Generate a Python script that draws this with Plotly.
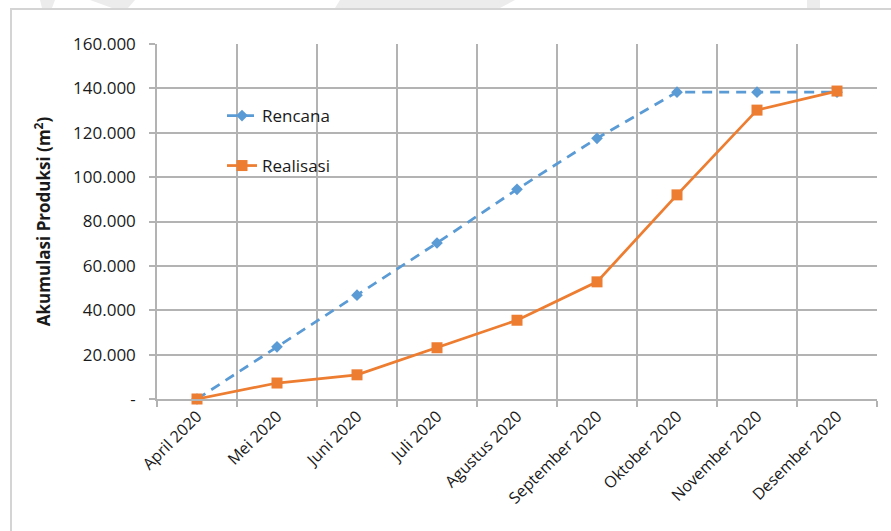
import plotly.graph_objects as go

categories = ["April 2020", "Mei 2020", "Juni 2020", "Juli 2020", "Agustus 2020",
              "September 2020", "Oktober 2020", "November 2020", "Desember 2020"]
rencana = [0, 23500, 46800, 70300, 94500, 117500, 138300, 138300, 138300]
realisasi = [0, 7200, 10900, 23100, 35500, 52800, 92000, 130200, 138800]

ytick_vals = [0, 20000, 40000, 60000, 80000, 100000, 120000, 140000, 160000]
ytick_text = ["-", "20.000", "40.000", "60.000", "80.000", "100.000", "120.000", "140.000", "160.000"]

W, H = 891, 531
L, R, T, B = 157, 14, 44, 132
PW, PH = W - L - R, H - T - B

def px(x):
    return (x - L) / PW

def py(y):
    return (H - B - y) / PH

FONT = "Open Sans"
BLUE = "#5B9BD5"
ORANGE = "#ED7D31"
GRID = "#b3b3b3"
TXT = "#1a1a1a"

fig = go.Figure()
fig.add_trace(go.Scatter(
    x=categories, y=rencana, name="Rencana", mode="lines+markers",
    line=dict(color=BLUE, width=2.75, dash="10px,7px"),
    marker=dict(symbol="diamond", size=9, color=BLUE),
    cliponaxis=False, legend="legend", showlegend=True))
fig.add_trace(go.Scatter(
    x=categories, y=realisasi, name="Realisasi", mode="lines+markers",
    line=dict(color=ORANGE, width=2.75),
    marker=dict(symbol="square", size=11, color=ORANGE),
    cliponaxis=False, legend="legend2", showlegend=True))

shapes = []
# outer frame
shapes.append(dict(type="rect", xref="paper", yref="paper",
                   x0=px(11), x1=px(905), y0=py(545), y1=py(9),
                   line=dict(color="#d4d4d4", width=2), layer="below"))
# faint watermark fragments at top
wm = "#ececec"
for pts in [
    [(40, 0), (55, 0), (52, 8), (42, 8)],
    [(90, 0), (135, 0), (128, 8), (112, 8)],
    [(340, 0), (515, 0), (500, 8), (335, 8)],
    [(420, 0), (432, 0), (432, 8), (420, 8)],
    [(807, 0), (820, 0), (820, 8), (807, 8)],
]:
    path = "M " + " L ".join(f"{px(x)},{py(y)}" for x, y in pts) + " Z"
    shapes.append(dict(type="path", xref="paper", yref="paper", path=path,
                       fillcolor=wm, line=dict(width=0), layer="below"))

fig.update_layout(
    width=W, height=H,
    margin=dict(l=L, r=R, t=T, b=B),
    paper_bgcolor="white", plot_bgcolor="white",
    font=dict(family=FONT, size=16, color=TXT),
    shapes=shapes,
    showlegend=True,
    legend=dict(x=px(222), y=py(116), xanchor="left", yanchor="middle",
                bgcolor="rgba(0,0,0,0)", font=dict(size=17, color=TXT)),
    legend2=dict(x=px(222), y=py(166), xanchor="left", yanchor="middle",
                 bgcolor="rgba(0,0,0,0)", font=dict(size=17, color=TXT)),
    xaxis=dict(
        type="category", range=[-0.5, 8.5], tickson="boundaries",
        showgrid=True, gridcolor=GRID, gridwidth=1.5,
        showline=True, linecolor=GRID, linewidth=1.5,
        ticks="outside", ticklen=6, tickcolor=GRID, tickwidth=1.5,
        tickangle=-45, tickfont=dict(size=16, color=TXT),
        fixedrange=True),
    yaxis=dict(
        range=[0, 160000], tickvals=ytick_vals, ticktext=ytick_text,
        showgrid=True, gridcolor=GRID, gridwidth=1.5,
        showline=True, linecolor=GRID, linewidth=1.5,
        ticks="outside", ticklen=6, tickcolor=GRID, tickwidth=1.5,
        ticklabelstandoff=10,
        tickfont=dict(size=17, color=TXT), zeroline=False,
        title=dict(text="<b>Akumulasi Produksi (m<sup>2</sup>)</b>",
                   font=dict(size=17, color=TXT), standoff=18),
        fixedrange=True),
)

fig.write_html("out.html")
